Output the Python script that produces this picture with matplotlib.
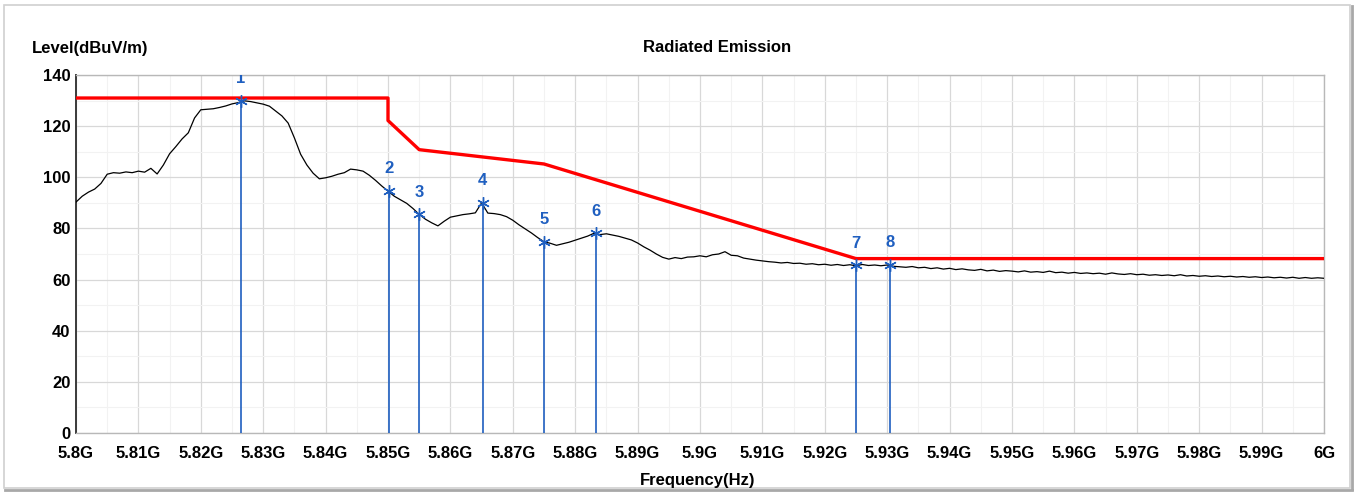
import matplotlib
matplotlib.use("Agg")
import matplotlib.pyplot as plt
from matplotlib.patches import Rectangle
from matplotlib.lines import Line2D
from matplotlib.ticker import MultipleLocator

# ---------------- data ----------------
trace_freq_mhz = list(range(5800, 6001))
trace_level = [
    90.3, 92.6, 94.2, 95.4, 97.6, 101.2, 101.8, 101.6, 102.1, 101.8,
    102.4, 102.0, 103.5, 101.3, 104.8, 109.2, 112.0, 115.0, 117.4, 123.2,
    126.4, 126.6, 126.8, 127.3, 127.9, 128.7, 129.2, 129.9, 129.6, 129.1,
    128.6, 127.8, 125.9, 124.0, 121.2, 115.4, 109.0, 104.8, 101.6, 99.4,
    99.8, 100.4, 101.2, 101.8, 103.2, 102.9, 102.4, 100.8, 98.8, 96.6,
    94.6, 92.6, 91.2, 89.8, 87.8, 85.5, 83.6, 82.2, 81.0, 82.8,
    84.4, 84.9, 85.4, 85.7, 86.1, 90.0, 86.0, 85.8, 85.4, 84.6,
    83.2, 81.4, 79.8, 78.2, 76.4, 74.8, 74.2, 73.4, 74.0, 74.6,
    75.4, 76.2, 77.0, 78.1, 77.6, 77.9, 77.4, 76.9, 76.2, 75.5,
    74.3, 72.8, 71.5, 70.0, 68.7, 68.0, 68.6, 68.2, 68.8, 68.9,
    69.3, 68.9, 69.7, 70.0, 70.9, 69.5, 69.3, 68.4, 68.0, 67.6,
    67.3, 67.0, 66.8, 66.5, 66.7, 66.3, 66.4, 66.0, 66.2, 65.8,
    66.0, 65.6, 65.9, 65.5, 65.8, 65.4, 65.9, 65.5, 65.7, 65.4,
    65.7, 65.2, 65.0, 64.8, 65.1, 64.6, 64.8, 64.3, 64.6, 64.1,
    64.4, 63.9, 64.2, 63.8, 63.6, 64.0, 63.4, 63.7, 63.2, 63.5,
    63.3, 63.0, 63.4, 62.9, 63.1, 62.8, 63.3, 62.7, 62.9, 62.5,
    62.8, 62.4, 62.6, 62.3, 62.5, 62.1, 62.6, 62.2, 62.0, 62.3,
    61.9, 62.1, 61.7, 61.9, 61.6, 61.8, 61.5, 61.9, 61.4, 61.6,
    61.3, 61.5, 61.2, 61.4, 61.1, 61.3, 61.0, 61.2, 60.9, 61.1,
    60.8, 61.0, 60.7, 60.9, 60.6, 60.9, 60.5, 60.8, 60.5, 60.7,
    60.5,
]

limit_freq_mhz = [5800, 5850, 5850, 5855, 5875, 5925, 6000]
limit_level = [131.0, 131.0, 122.2, 110.8, 105.2, 68.2, 68.2]

marker_ids = ["1", "2", "3", "4", "5", "6", "7", "8"]
marker_freq_mhz = [5826.4, 5850.1, 5855.0, 5865.2, 5875.0, 5883.3, 5925.0, 5930.5]
marker_level = [129.9, 94.6, 85.5, 90.0, 74.8, 78.1, 65.6, 65.7]

x_ticks_mhz = list(range(5800, 6001, 10))
x_tick_labels = ["5.8G", "5.81G", "5.82G", "5.83G", "5.84G", "5.85G", "5.86G",
                 "5.87G", "5.88G", "5.89G", "5.9G", "5.91G", "5.92G", "5.93G",
                 "5.94G", "5.95G", "5.96G", "5.97G", "5.98G", "5.99G", "6G"]
y_ticks = [0, 20, 40, 60, 80, 100, 120, 140]

# ---------------- figure ----------------
plt.rcParams['font.family'] = ['Liberation Sans', 'DejaVu Sans']
W, H = 1359, 493
fig = plt.figure(figsize=(W / 100, H / 100), dpi=100, facecolor="white")

# outer frame with a soft shadow on right/bottom
fig.patches.append(Rectangle((4 / W, 5 / H), 1346 / W, 483 / H, transform=fig.transFigure,
                             fill=False, edgecolor="#d0d0d0", linewidth=1.2))
fig.lines.append(Line2D([1351.5 / W, 1351.5 / W], [4 / H, 487 / H], transform=fig.transFigure,
                        color="#a8a8a8", linewidth=2.0))
fig.lines.append(Line2D([5 / W, 1352 / W], [3.5 / H, 3.5 / H], transform=fig.transFigure,
                        color="#a8a8a8", linewidth=2.0))

ax = fig.add_axes([76 / W, (H - 433) / H, 1248 / W, 358 / H])
ax.set_xlim(5800, 6000)
ax.set_ylim(0, 140)

# grid
ax.set_xticks(x_ticks_mhz)
ax.set_xticklabels(x_tick_labels, fontsize=12, fontweight="bold")
ax.set_yticks(y_ticks)
ax.set_yticklabels([str(v) for v in y_ticks], fontsize=12, fontweight="bold")
ax.xaxis.set_minor_locator(MultipleLocator(5))
ax.yaxis.set_minor_locator(MultipleLocator(10))
ax.grid(True, which="major", color="#d8d8d8", linewidth=0.9)
ax.grid(True, which="minor", color="#f2f2f2", linewidth=0.8)
ax.set_axisbelow(True)
ax.tick_params(which="both", length=0)
ax.tick_params(axis="x", pad=9)
ax.tick_params(axis="y", pad=4)

for side in ["top", "right", "bottom"]:
    ax.spines[side].set_color("#b8b8b8")
    ax.spines[side].set_linewidth(1.0)
ax.spines["left"].set_color("#3a3a3a")
ax.spines["left"].set_linewidth(1.4)

# trace
ax.plot(trace_freq_mhz, trace_level, color="black", linewidth=0.9, zorder=3)

# limit
ax.plot(limit_freq_mhz, limit_level, color="#ff0000", linewidth=2.4, zorder=4)

# markers
mcol = "#1f5fc0"
for mid, f, lv in zip(marker_ids, marker_freq_mhz, marker_level):
    ax.plot([f, f], [0, lv], color=mcol, linewidth=1.2, zorder=5)
    ax.plot([f], [lv], marker=(6, 2, 0), markersize=9, color=mcol,
            markeredgewidth=1.0, zorder=6)
    ax.annotate(mid, xy=(f, lv), xytext=(0, 16), textcoords="offset points",
                ha="center", va="center", color=mcol, fontsize=12,
                fontweight="bold", annotation_clip=False, clip_on=True, zorder=7)

# texts
fig.text(32 / W, (H - 48) / H, "Level(dBuV/m)", fontsize=12, fontweight="bold",
         ha="left", va="center")
fig.text(717 / W, (H - 47) / H, "Radiated Emission", fontsize=12, fontweight="bold",
         ha="center", va="center")
fig.text(698 / W, (H - 480) / H, "Frequency(Hz)", fontsize=12, fontweight="bold",
         ha="center", va="center")

fig.savefig("out.png", dpi=100, facecolor="white")
